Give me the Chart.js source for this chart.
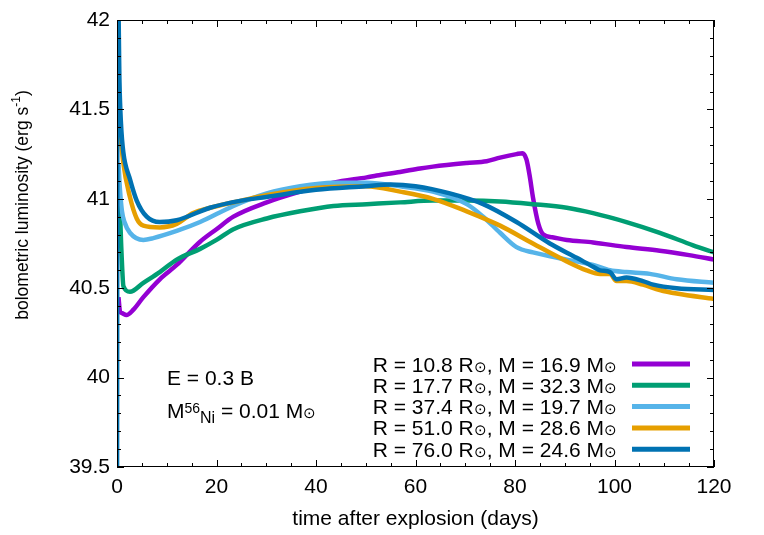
<!DOCTYPE html>
<html><head><meta charset="utf-8">
<script src="https://cdn.jsdelivr.net/npm/chart.js@4/dist/chart.umd.min.js"></script>
<style>html,body{margin:0;padding:0;background:#fff}#wrap{width:764px;height:535px}</style>
</head><body><div id="wrap"><canvas id="c" width="764" height="535"></canvas></div>
<script>
// ---- data ----
const xTickValues = [0, 20, 40, 60, 80, 100, 120];
const yTickValues = [39.5, 40, 40.5, 41, 41.5, 42];
const yTickLabels = ['39.5', '40', '40.5', '41', '41.5', '42'];
const radii = ['10.8', '17.7', '37.4', '51.0', '76.0'];
const masses = ['16.9', '32.3', '19.7', '28.6', '24.6'];
const colors = ['#9400d3', '#009e73', '#56b4e9', '#e69f00', '#0072b2'];

const daysR108 = [0.3, 0.6, 1.0, 1.9, 3.3, 5.3, 8.6, 12, 16.7, 20, 23.4, 30.1, 36.8, 43.5, 50.2, 52.2, 56.9, 60.9, 63.5, 70.3, 74.3, 77, 80.3, 81.5, 82.3, 83, 83.6, 84.7, 85.7, 87.5, 90.4, 95.7, 102.4, 109.1, 115, 120];
const lumR108  = [40.45, 40.37, 40.36, 40.35, 40.38, 40.45, 40.55, 40.63, 40.76, 40.83, 40.90, 40.98, 41.04, 41.09, 41.12, 41.13, 41.15, 41.17, 41.18, 41.20, 41.21, 41.23, 41.25, 41.255, 41.22, 41.12, 41.01, 40.86, 40.80, 40.785, 40.77, 40.756, 40.73, 40.71, 40.685, 40.66];

const daysR177 = [0.3, 0.6, 0.9, 1.3, 2.6, 5.3, 8.6, 12, 16.7, 20, 23.4, 30.1, 36.8, 43.5, 50.2, 56.9, 63.5, 70.3, 77, 83.6, 90.4, 95.7, 102.4, 109.1, 115.8, 120];
const lumR177  = [41.02, 40.92, 40.70, 40.51, 40.48, 40.53, 40.59, 40.66, 40.72, 40.77, 40.83, 40.89, 40.93, 40.96, 40.97, 40.98, 40.99, 40.99, 40.985, 40.97, 40.95, 40.92, 40.87, 40.81, 40.74, 40.70];

const daysR374 = [0.3, 0.6, 1.0, 1.5, 2.6, 5.3, 7.3, 12, 16.7, 23.4, 30.1, 36.8, 43.5, 50.2, 56.9, 63.5, 70.3, 73.6, 77, 80.3, 83.6, 90.4, 95.7, 99.1, 102.4, 107.1, 112.5, 120];
const lumR374  = [41.20, 41.05, 40.93, 40.87, 40.81, 40.77, 40.78, 40.82, 40.87, 40.96, 41.03, 41.07, 41.09, 41.09, 41.07, 41.04, 40.97, 40.90, 40.81, 40.73, 40.70, 40.66, 40.63, 40.60, 40.59, 40.58, 40.55, 40.53];

const daysR510 = [0.3, 0.6, 1.27, 2.6, 3.96, 5.3, 8.6, 12, 15.3, 18.7, 25, 30, 40, 50, 56.9, 63.5, 70.3, 77, 83.6, 90.4, 94.4, 97.1, 99.1, 100.4, 102.4, 105.7, 109.1, 112.5, 120];
const lumR510  = [41.55, 41.40, 41.20, 41.01, 40.89, 40.85, 40.84, 40.86, 40.92, 40.95, 40.99, 41.02, 41.06, 41.07, 41.04, 41.00, 40.93, 40.85, 40.75, 40.65, 40.60, 40.58, 40.58, 40.54, 40.54, 40.52, 40.49, 40.47, 40.44];

const daysR760 = [0, 0.1, 0.5, 0.8, 1.27, 2.6, 3.96, 5.97, 8.6, 12, 18.7, 25, 30, 40, 50, 55, 60, 66.9, 73.6, 80.3, 87, 92.4, 95.7, 97.1, 99.1, 100.4, 102.4, 105.7, 107.8, 112.5, 120];
const lumR760  = [39.0, 42.4, 41.65, 41.42, 41.26, 41.11, 40.99, 40.90, 40.87, 40.88, 40.95, 40.99, 41.01, 41.05, 41.07, 41.08, 41.07, 41.03, 40.97, 40.87, 40.75, 40.67, 40.62, 40.60, 40.59, 40.55, 40.56, 40.54, 40.52, 40.50, 40.49];

const seriesDays = [daysR108, daysR177, daysR374, daysR510, daysR760];
const seriesLum = [lumR108, lumR177, lumR374, lumR510, lumR760];

// ---- chart ----
const FONT = '"Liberation Sans", Arial, Helvetica, sans-serif';
const FS = 21;
const SUN = '\u2299';

function drawRich(ctx, parts, x, y, align, base) {
  const bs = base || FS;
  let total = 0;
  parts.forEach(p => { ctx.font = (p.size || bs) + 'px ' + FONT; p.w = ctx.measureText(p.t).width; total += p.w; });
  let cx = align === 'right' ? x - total : (align === 'center' ? x - total / 2 : x);
  ctx.textAlign = 'left';
  ctx.textBaseline = 'alphabetic';
  parts.forEach(p => { ctx.font = (p.size || bs) + 'px ' + FONT; ctx.fillText(p.t, cx, y + (p.dy || 0)); cx += p.w; });
}

const overlay = {
  id: 'overlay',
  afterDraw(chart) {
    const { ctx, chartArea: a, scales: { x, y } } = chart;
    ctx.save();
    ctx.strokeStyle = '#000';
    ctx.lineWidth = 1;
    ctx.strokeRect(a.left + 0.5, a.top + 0.5, a.right - a.left - 1, a.bottom - a.top - 1);
    ctx.beginPath();
    for (let i = 0; i <= 24; i++) {
      const d = i * 5;
      const px = Math.round(x.getPixelForValue(d)) + 0.5;
      const L = (i % 4 === 0) ? 7 : 4;
      ctx.moveTo(px, a.top); ctx.lineTo(px, a.top + L);
      ctx.moveTo(px, a.bottom); ctx.lineTo(px, a.bottom - L);
    }
    for (let i = 0; i <= 25; i++) {
      const v = 39.5 + i * 0.1;
      const py = Math.round(y.getPixelForValue(v)) + 0.5;
      const L = (i % 5 === 0) ? 7 : 4;
      ctx.moveTo(a.left, py); ctx.lineTo(a.left + L, py);
      ctx.moveTo(a.right, py); ctx.lineTo(a.right - L, py);
    }
    ctx.stroke();

    ctx.fillStyle = '#000';
    // x title
    drawRich(ctx, [{ t: 'time after explosion (days)' }], (a.left + a.right) / 2, 525, 'center');
    // y title
    ctx.save();
    ctx.translate(22, 205);
    ctx.rotate(-Math.PI / 2);
    drawRich(ctx, [{ t: 'bolometric luminosity (erg s' }, { t: '-1', size: 12, dy: -8 }, { t: ')' }], 0, 6, 'center', 17.5);
    ctx.restore();

    // annotations
    const ax = a.left + 50;
    drawRich(ctx, [{ t: 'E = 0.3 B' }], ax, 385, 'left');
    drawRich(ctx, [{ t: 'M' }, { t: '56', size: 14, dy: -5 }, { t: 'Ni', size: 16, dy: 5 }, { t: ' = 0.01 M' }, { t: SUN, size: 15 }], ax, 418, 'left');

    // legend
    const rowY = [364, 385.3, 406.6, 427.9, 449.2];
    for (let i = 0; i < 5; i++) {
      drawRich(ctx, [
        { t: 'R = ' + radii[i] + ' R' }, { t: SUN, size: 15 },
        { t: ', M = ' + masses[i] + ' M' }, { t: SUN, size: 15 }
      ], a.right - 97, rowY[i] + 7.5, 'right');
      ctx.strokeStyle = colors[i];
      ctx.lineWidth = 5;
      ctx.beginPath();
      ctx.moveTo(a.right - 82, rowY[i]);
      ctx.lineTo(a.right - 24, rowY[i]);
      ctx.stroke();
    }
    ctx.restore();
  }
};

const datasets = seriesDays.map((days, i) => ({
  label: 'R = ' + radii[i] + ', M = ' + masses[i],
  data: days.map((d, j) => ({ x: d, y: seriesLum[i][j] })),
  borderColor: colors[i],
  backgroundColor: colors[i],
  borderWidth: 4.5,
  pointRadius: 0,
  cubicInterpolationMode: 'monotone',
  order: 4 - i,
  fill: false
}));

new Chart(document.getElementById('c'), {
  type: 'line',
  data: { datasets },
  options: {
    responsive: false,
    animation: false,
    devicePixelRatio: 1,
    layout: { padding: { top: 20, right: 50, left: 0, bottom: 0 } },
    plugins: { legend: { display: false }, tooltip: { enabled: false }, title: { display: false } },
    scales: {
      x: {
        type: 'linear', min: 0, max: 120,
        afterFit: s => { s.height = 68; },
        afterBuildTicks: s => { s.ticks = xTickValues.map(v => ({ value: v })); },
        ticks: { color: '#000', font: { family: FONT, size: FS }, padding: 8, maxRotation: 0, callback: v => String(v) },
        grid: { display: false, drawTicks: false },
        border: { display: false }
      },
      y: {
        type: 'linear', min: 39.5, max: 42,
        afterFit: s => { s.width = 117; },
        afterBuildTicks: s => { s.ticks = yTickValues.map(v => ({ value: v })); },
        ticks: { color: '#000', font: { family: FONT, size: FS }, padding: 7,
          callback: v => { const k = yTickValues.indexOf(v); return k >= 0 ? yTickLabels[k] : ''; } },
        grid: { display: false, drawTicks: false },
        border: { display: false }
      }
    }
  },
  plugins: [overlay]
});
</script>
</body></html>
